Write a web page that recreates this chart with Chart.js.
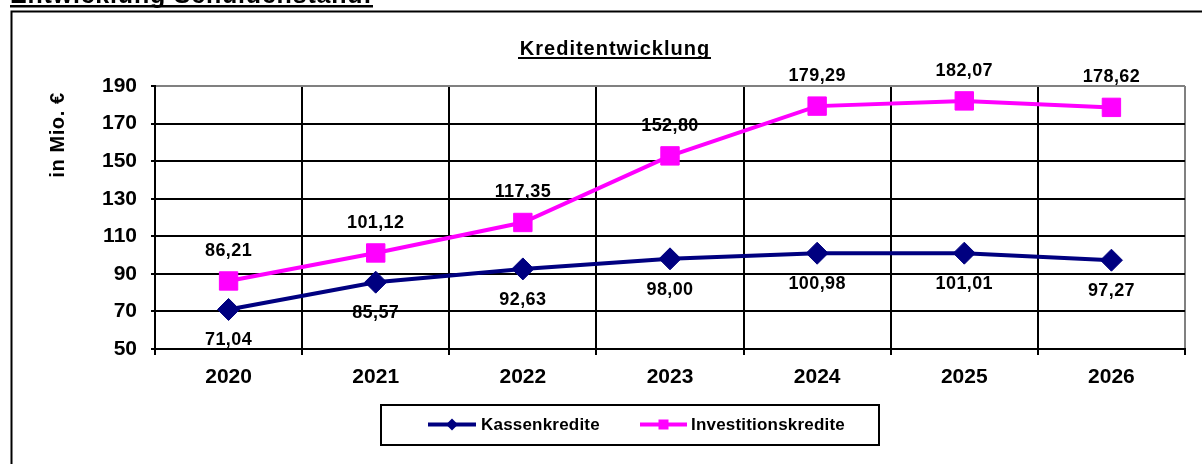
<!DOCTYPE html>
<html>
<head>
<meta charset="utf-8">
<script src="https://cdn.jsdelivr.net/npm/chart.js@4"></script>
<style>
    html, body { margin: 0; padding: 0; background: #fff; }
    canvas { display: block; }
</style>
</head>
<body>
<canvas id="kreditChart" width="1202" height="464"></canvas>
<script>
// Werte aus dem Diagramm
const jahre = ['2020', '2021', '2022', '2023', '2024', '2025', '2026'];
const kassenkredite = [71.04, 85.57, 92.63, 98.00, 100.98, 101.01, 97.27];
const investitionskredite = [86.21, 101.12, 117.35, 152.80, 179.29, 182.07, 178.62];
const yMin = 50;
const yMax = 190;
const yStep = 20;

const NAVY = '#000080';
const PINK = '#ff00ff';
const FONT = 'Arial, "Liberation Sans", sans-serif';

const fmt = v => v.toFixed(2).replace('.', ',');

// Rahmen, Überschriften, Achsentitel, Legende und Werte
const extras = {
    id: 'extras',
    beforeDraw(chart) {
        const ctx = chart.ctx;
        ctx.save();
        // Überschrift (oben abgeschnitten)
        ctx.fillStyle = '#000';
        ctx.font = `bold 25px ${FONT}`;
        ctx.letterSpacing = '0.8px';
        ctx.textBaseline = 'alphabetic';
        ctx.textAlign = 'left';
        ctx.fillText('Entwicklung Schuldenstand:', 10, 3);
        ctx.fillRect(10, 5, 363, 2.5);
        // äußerer Rahmen
        ctx.strokeStyle = '#000';
        ctx.lineWidth = 2;
        ctx.beginPath();
        ctx.moveTo(11.5, 470);
        ctx.lineTo(11.5, 11.5);
        ctx.lineTo(1210, 11.5);
        ctx.stroke();
        ctx.restore();
    },
    afterDraw(chart) {
        const ctx = chart.ctx;
        ctx.save();
        ctx.fillStyle = '#000';

        // Titel
        ctx.font = `bold 20px ${FONT}`;
        ctx.letterSpacing = '1px';
        ctx.textAlign = 'center';
        ctx.textBaseline = 'alphabetic';
        ctx.fillText('Kreditentwicklung', 615, 55);
        ctx.fillRect(518, 57, 193, 2);

        // Achsentitel
        ctx.letterSpacing = '0.6px';
        ctx.font = `bold 20px ${FONT}`;
        ctx.translate(58, 135);
        ctx.rotate(-Math.PI / 2);
        ctx.textBaseline = 'middle';
        ctx.fillText('in Mio. €', 0, 0);
        ctx.setTransform(1, 0, 0, 1, 0, 0);

        // Datenbeschriftungen
        ctx.letterSpacing = '0.4px';
        ctx.font = `bold 18px ${FONT}`;
        ctx.textAlign = 'center';
        ctx.textBaseline = 'middle';
        chart.data.datasets.forEach((ds, i) => {
            const meta = chart.getDatasetMeta(i);
            const dy = i === 0 ? 31 : -30;
            meta.data.forEach((pt, j) => {
                ctx.fillText(fmt(ds.data[j]), pt.x, pt.y + dy);
            });
        });

        // Legende
        ctx.letterSpacing = '0.2px';
        ctx.strokeStyle = '#000';
        ctx.lineWidth = 2;
        ctx.strokeRect(381, 405, 498, 40);
        ctx.font = `bold 17px ${FONT}`;
        ctx.textAlign = 'left';
        ctx.lineWidth = 4;
        ctx.strokeStyle = NAVY;
        ctx.beginPath();
        ctx.moveTo(428, 424.5);
        ctx.lineTo(476, 424.5);
        ctx.stroke();
        ctx.fillStyle = NAVY;
        ctx.beginPath();
        ctx.moveTo(452, 418.5);
        ctx.lineTo(458, 424.5);
        ctx.lineTo(452, 430.5);
        ctx.lineTo(446, 424.5);
        ctx.closePath();
        ctx.fill();
        ctx.fillStyle = '#000';
        ctx.fillText('Kassenkredite', 481, 425);

        ctx.strokeStyle = PINK;
        ctx.beginPath();
        ctx.moveTo(640, 424.5);
        ctx.lineTo(687, 424.5);
        ctx.stroke();
        ctx.fillStyle = PINK;
        ctx.fillRect(658.5, 419.5, 10, 10);
        ctx.fillStyle = '#000';
        ctx.fillText('Investitionskredite', 691, 425);
        ctx.restore();
    }
};

new Chart(document.getElementById('kreditChart').getContext('2d'), {
    type: 'line',
    data: {
        labels: jahre,
        datasets: [{
            label: 'Kassenkredite',
            data: kassenkredite,
            borderColor: NAVY,
            backgroundColor: NAVY,
            borderWidth: 4,
            pointStyle: 'rectRot',
            pointRadius: 11,
            pointBorderWidth: 1,
            tension: 0
        }, {
            label: 'Investitionskredite',
            data: investitionskredite,
            borderColor: PINK,
            backgroundColor: PINK,
            borderWidth: 4,
            pointStyle: 'rect',
            pointRadius: 13,
            pointBorderWidth: 1,
            tension: 0
        }]
    },
    options: {
        responsive: false,
        animation: false,
        devicePixelRatio: 1,
        layout: { padding: { left: 0, top: 86, right: 17, bottom: 0 } },
        plugins: {
            legend: { display: false },
            title: { display: false },
            tooltip: { enabled: false }
        },
        scales: {
            x: {
                offset: true,
                grid: {
                    offset: true,
                    color: c => c.tick ? '#000' : '#808080',
                    lineWidth: 2,
                    tickLength: 6,
                    tickColor: '#000'
                },
                border: { color: '#000', width: 2 },
                ticks: {
                    color: '#000',
                    padding: 10,
                    font: { family: FONT, size: 21, weight: 'bold' }
                },
                afterFit: s => { s.height = 115; }
            },
            y: {
                min: yMin,
                max: yMax,
                grid: {
                    color: c => (c.tick && c.tick.value === yMax) ? '#808080' : '#000',
                    lineWidth: 2,
                    tickLength: 4,
                    tickColor: '#000'
                },
                border: { color: '#000', width: 2 },
                ticks: {
                    stepSize: yStep,
                    color: '#000',
                    padding: 14,
                    font: { family: FONT, size: 21, weight: 'bold' }
                },
                afterFit: s => { s.width = 155; }
            }
        }
    },
    plugins: [extras]
});
</script>
</body>
</html>
